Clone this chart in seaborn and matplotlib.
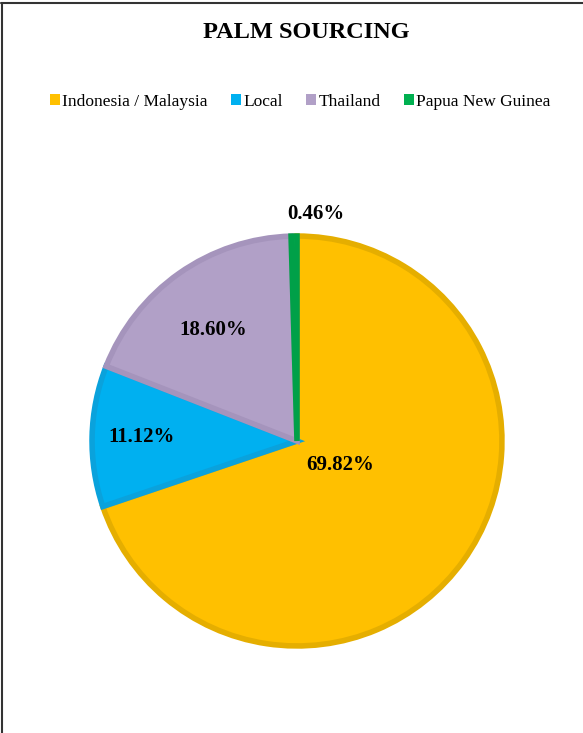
import numpy as np
import matplotlib
matplotlib.use('Agg')
import matplotlib.pyplot as plt
from matplotlib.patches import Patch
from matplotlib.lines import Line2D
import seaborn as sns

# Data
regions = ['Indonesia / Malaysia', 'Local', 'Thailand', 'Papua New Guinea']
shares = [69.82, 11.12, 18.60, 0.46]

# Excel-like colours (fill + darker outline)
fill_colors = ['#FFC000', '#00B0F0', '#B1A0C7', '#00B050']
edge_colors = ['#E5AE00', '#0AA2DC', '#A594BC', '#00A048']

sns.set_theme(style='white')
plt.rcParams['font.family'] = ['Liberation Serif', 'DejaVu Serif']
plt.rcParams['text.color'] = 'black'

fig = plt.figure(figsize=(5.83, 7.33), dpi=100)
fig.patch.set_facecolor('white')

# pie axes: radius 207px, centre at (297, 441)
W, H = 583, 733
r_px, cx, cy = 207, 297, 441
ax = fig.add_axes([(cx - r_px) / W, (H - cy - r_px) / H, 2 * r_px / W, 2 * r_px / H])

wedges, texts, autotexts = ax.pie(
    shares, colors=fill_colors, startangle=90, counterclock=False,
    autopct='%.2f%%', pctdistance=0.7,
    wedgeprops=dict(linewidth=4),
)
for w, ec in zip(wedges, edge_colors):
    w.set_edgecolor(ec)
ax.set_xlim(-1.01, 1.01)
ax.set_ylim(-1.01, 1.01)
ax.set_aspect('equal')
ax.axis('off')

# label placement: radial distance + angle shift per wedge
label_dist = [0.24, 0.76, 0.68, 1.11]
angle_shift = [6, 0, 2, 0]
for w, t, d, s in zip(wedges, autotexts, label_dist, angle_shift):
    mid = np.deg2rad((w.theta1 + w.theta2) / 2 + s)
    t.set_position((d * np.cos(mid), d * np.sin(mid)))
    t.set_fontsize(15)
    t.set_fontweight('bold')
    t.set_color('black')
autotexts[3].set_ha('left')
x0, y0 = autotexts[3].get_position()
autotexts[3].set_position((x0 - 0.03, y0))

fig.text(306.5 / W, 1 - 33 / H, 'PALM SOURCING', ha='center', va='center',
         fontsize=17.5, fontweight='bold', color='black')

handles = [Patch(facecolor=c, edgecolor='none') for c in fill_colors]
fig.legend(handles, regions, loc='center', bbox_to_anchor=(300.5 / W, 1 - 102 / H),
           ncol=4, frameon=False, fontsize=12.5, handlelength=0.55, handleheight=0.6,
           handletextpad=0.15, columnspacing=1.35, labelcolor='black')

# chart-area border (top and left visible)
fig.add_artist(Line2D([0.002, 1], [1 - 3 / H, 1 - 3 / H], color='#333333', lw=1.5,
                      transform=fig.transFigure))
fig.add_artist(Line2D([1.5 / W, 1.5 / W], [0, 1 - 3 / H], color='#333333', lw=1.5,
                      transform=fig.transFigure))

fig.savefig('out.png', dpi=100)
